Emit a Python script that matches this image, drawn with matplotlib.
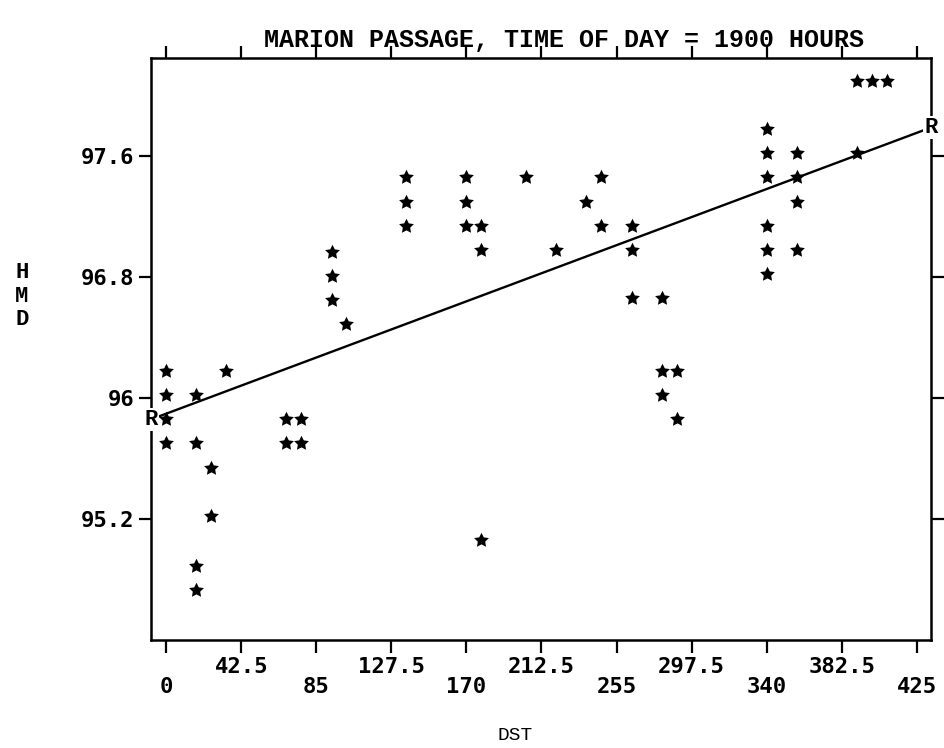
import numpy as np
import matplotlib
matplotlib.use("Agg")
import matplotlib.pyplot as plt
from matplotlib.path import Path

# values
dst = [0, 0, 0, 0,
       17, 17, 17, 17,
       25.5, 25.5,
       34,
       68, 68,
       76.5, 76.5,
       94, 94, 94,
       102,
       136, 136, 136,
       170, 170, 170,
       178.5, 178.5, 178.5,
       204,
       221,
       238,
       246.5, 246.5,
       263.5, 263.5, 263.5,
       280.5, 280.5, 280.5,
       289, 289,
       340, 340, 340, 340, 340, 340,
       357, 357, 357, 357,
       391, 391,
       399.5,
       408]
hmd = [96.18, 96.02, 95.86, 95.70,
       96.02, 95.70, 94.89, 94.73,
       95.54, 95.22,
       96.18,
       95.86, 95.70,
       95.86, 95.70,
       96.97, 96.81, 96.65,
       96.49,
       97.46, 97.30, 97.14,
       97.46, 97.30, 97.14,
       97.14, 96.98, 95.06,
       97.46,
       96.98,
       97.30,
       97.46, 97.14,
       97.14, 96.98, 96.66,
       96.66, 96.18, 96.02,
       96.18, 95.86,
       97.78, 97.62, 97.46, 97.14, 96.98, 96.82,
       97.62, 97.46, 97.30, 96.98,
       97.62, 98.10,
       98.10,
       98.10]

# regression line end points (R ... R)
reg_x = [-8.5, 433]
reg_y = [95.86, 97.79]

xticks = [0, 42.5, 85, 127.5, 170, 212.5, 255, 297.5, 340, 382.5, 425]
xtick_labels = ["0", "42.5", "85", "127.5", "170", "212.5", "255",
                "297.5", "340", "382.5", "425"]
yticks = [95.2, 96.0, 96.8, 97.6]
ytick_labels = ["95.2", "96", "96.8", "97.6"]

title = "MARION PASSAGE, TIME OF DAY = 1900 HOURS"

mono = "Liberation Mono"
sans_mono = "DejaVu Sans Mono"


def fat_star(inner=0.5):
    # chunky five point star like the plotter symbol
    ang = np.pi / 2 + np.arange(10) * np.pi / 5
    rad = np.where(np.arange(10) % 2 == 0, 1.0, inner)
    verts = np.column_stack([rad * np.cos(ang), rad * np.sin(ang)])
    verts = np.vstack([verts, verts[:1]])
    codes = [Path.MOVETO] + [Path.LINETO] * 9 + [Path.CLOSEPOLY]
    return Path(verts, codes)


fig = plt.figure(figsize=(9.45, 7.48), dpi=100)
fig.patch.set_facecolor("white")
ax = fig.add_axes([0.160, 0.1444, 0.825, 0.778])

ax.set_xlim(-8.5, 433)
ax.set_ylim(94.40, 98.25)

ax.plot(reg_x, reg_y, color="black", linewidth=1.7, solid_capstyle="butt",
        zorder=2)
ax.scatter(dst, hmd, marker=fat_star(), s=125, color="black",
           linewidths=0, zorder=3)

# R markers at both ends of the fitted line
for xr, yr in zip(reg_x, reg_y):
    ax.text(xr, yr, "R", ha="center", va="center", fontsize=16,
            family=mono, fontweight="bold", clip_on=False, zorder=5,
            bbox=dict(boxstyle="square,pad=0.05", facecolor="white",
                      edgecolor="none"))

for sp in ax.spines.values():
    sp.set_linewidth(1.8)

staggered = [lab if i % 2 else "\n" + lab for i, lab in enumerate(xtick_labels)]
ax.set_xticks(xticks)
ax.set_xticklabels(staggered, family=sans_mono, fontweight="bold",
                   fontsize=16, linespacing=1.0)
ax.set_yticks(yticks)
ax.set_yticklabels(ytick_labels, family=sans_mono, fontweight="bold",
                   fontsize=16)
ax.tick_params(direction="out", length=9, width=1.6, top=True, right=True,
               labeltop=False, labelright=False, pad=3)

ax.annotate(title, xy=(0.53, 1.0), xycoords="axes fraction",
            xytext=(0, 8), textcoords="offset points", ha="center",
            va="baseline", fontsize=18, family=mono, fontweight="bold")

fig.text(0.023, 1 - 296 / 748, "H\nM\nD", ha="center", va="center",
         fontsize=16, family=mono, fontweight="bold", linespacing=1.15)
fig.text(515 / 945, 1 - 736 / 748, "DST", ha="center", va="center",
         fontsize=14, family=mono)

fig.savefig("out.png", dpi=100, facecolor="white")
